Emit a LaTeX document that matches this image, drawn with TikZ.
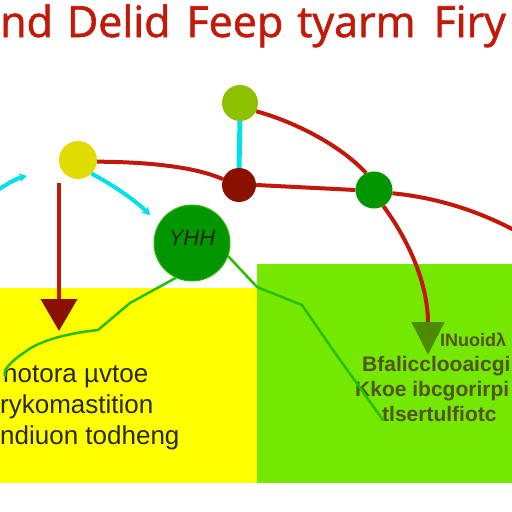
\documentclass[tikz,border=0pt]{standalone}
\usepackage{fontspec}
\setmainfont{Liberation Sans}
\newfontfamily\titlefont[FakeBold=1.4]{Open Sans}
\usepackage{xcolor}
\definecolor{titlered}{RGB}{194,26,10}
\definecolor{linered}{RGB}{192,24,10}
\definecolor{dotred}{RGB}{138,16,0}
\definecolor{dotyellow}{RGB}{224,220,0}
\definecolor{dotlime}{RGB}{141,192,0}
\definecolor{dotgreen}{RGB}{0,150,0}
\definecolor{linecyan}{RGB}{0,224,232}
\definecolor{boxyellow}{RGB}{255,255,0}
\definecolor{boxgreen}{RGB}{116,232,0}
\definecolor{tipolive}{RGB}{76,138,0}
\definecolor{squiggreen}{RGB}{40,190,0}
\definecolor{txtdark}{RGB}{40,40,20}
\definecolor{txtolive}{RGB}{82,84,34}
\usepackage{tikz}
\usetikzlibrary{positioning}
\usetikzlibrary{arrows.meta}
\tikzstyle{dot} = [circle, inner sep=0pt, draw=none]
\tikzstyle{redline} = [line width=4pt, linered]
\tikzstyle{cyanline} = [line width=5pt, linecyan]
\tikzstyle{squig} = [line width=2.5pt, squiggreen, line join=round, line cap=round]
\tikzstyle{downred} = [redline, -{Triangle[width=36pt,length=32pt,color=dotred]}]
\tikzstyle{downolive} = [redline, -{Triangle[width=32pt,length=33pt,color=tipolive]}]
\tikzstyle{cyanarrow} = [line width=4pt, linecyan, -{Stealth[width=9pt,length=8pt]}]

\begin{document}
\begin{tikzpicture}[x=1pt,y=-1pt,on grid]
	\useasboundingbox (0,0) rectangle (512,512);
	\clip (0,0) rectangle (512,512);
	% panels
	\fill[boxyellow] (0,288) rectangle (257,483);
	\fill[boxgreen] (257,264) rectangle (512,483);
	% title
	\node (title)[anchor=base west, inner sep=0pt, text=titlered, font=\titlefont\fontsize{43}{43}\selectfont] at (0,37) {nd\hspace{14pt}Delid\hspace{16pt}Feep\hspace{14pt}tyarm\hspace{18pt}Firy};
	% dots
	\node (ylw)[dot, fill=dotyellow, minimum size=38pt] at (78,160) {};
	\node (lime)[dot, fill=dotlime, minimum size=36pt, above right=57pt and 162pt of ylw] {};
	\node (dkred)[dot, fill=dotred, minimum size=34pt, below right=25pt and 161pt of ylw] {};
	\node (sgrn)[dot, fill=dotgreen, minimum size=37pt, below right=5pt and 135pt of dkred] {};
	\node (big)[dot, fill=dotgreen, draw=squiggreen, line width=1pt, minimum size=76pt, below right=83pt and 114pt of ylw, text=txtdark, font=\itshape\fontsize{22}{22}\selectfont] {\raisebox{10pt}{YHH}};
	\coordinate (ra) at (59,183);
	\coordinate (rb) at (59,331);
	\coordinate (rc) at (428,355);
	\coordinate (rd) at (516,231);
	\coordinate (ca) at (-2,190);
	\coordinate (cb) at (27,176);
	\coordinate (sa) at (5,376);
	\coordinate (sb) at (383,420);
	% text blocks
	\node (lefttxt)[anchor=north west, inner sep=0pt, align=left, text=txtdark, font=\fontsize{26}{31}\selectfont] at (0,365) {\hspace*{3pt}notora µvtoe\\rykomastition\\ndiuon todheng};
	\node (righttxt)[anchor=north west, inner sep=0pt, align=left, text=txtolive, font=\bfseries\fontsize{21}{25}\selectfont] at (355,333) {\hspace*{85pt}{\fontsize{18}{25}\selectfont INuoidλ}\\\hspace*{7pt}Bfalicclooaicgi\\Kkoe ibcgorirpi\\\hspace*{27pt}tlsertulfiotc};
	% connectors
	\draw [squig] (big.245) -- (130,303) -- (98,330) .. controls (70,333) and (40,340) .. (25,352) .. controls (10,362) and (3,370) .. (sa);
	\draw [squig] (big.-20) -- (257,287) -- (302,305) -- (333,350) -- (sb);
	\draw [redline] (ylw.-5) .. controls (150,162) and (195,167) .. (dkred.160);
	\draw [redline] (dkred.east) -- (sgrn.west);
	\draw [redline] (lime.-27) .. controls (295,122) and (340,145) .. (sgrn.115);
	\draw [downolive] (sgrn.-60) .. controls (405,235) and (428,280) .. (rc);
	\draw [redline] (sgrn.-10) .. controls (440,198) and (480,212) .. (rd);
	\draw [downred] (ra) -- (rb);
	\draw [cyanline] (lime.south) -- (dkred.north);
	\draw [cyanarrow, shorten >=12pt] (ylw.-45) .. controls (122,190) and (140,205) .. (big.150);
	\draw [cyanarrow] (ca) .. controls (8,183) and (18,178) .. (cb);
\end{tikzpicture}
\end{document}
